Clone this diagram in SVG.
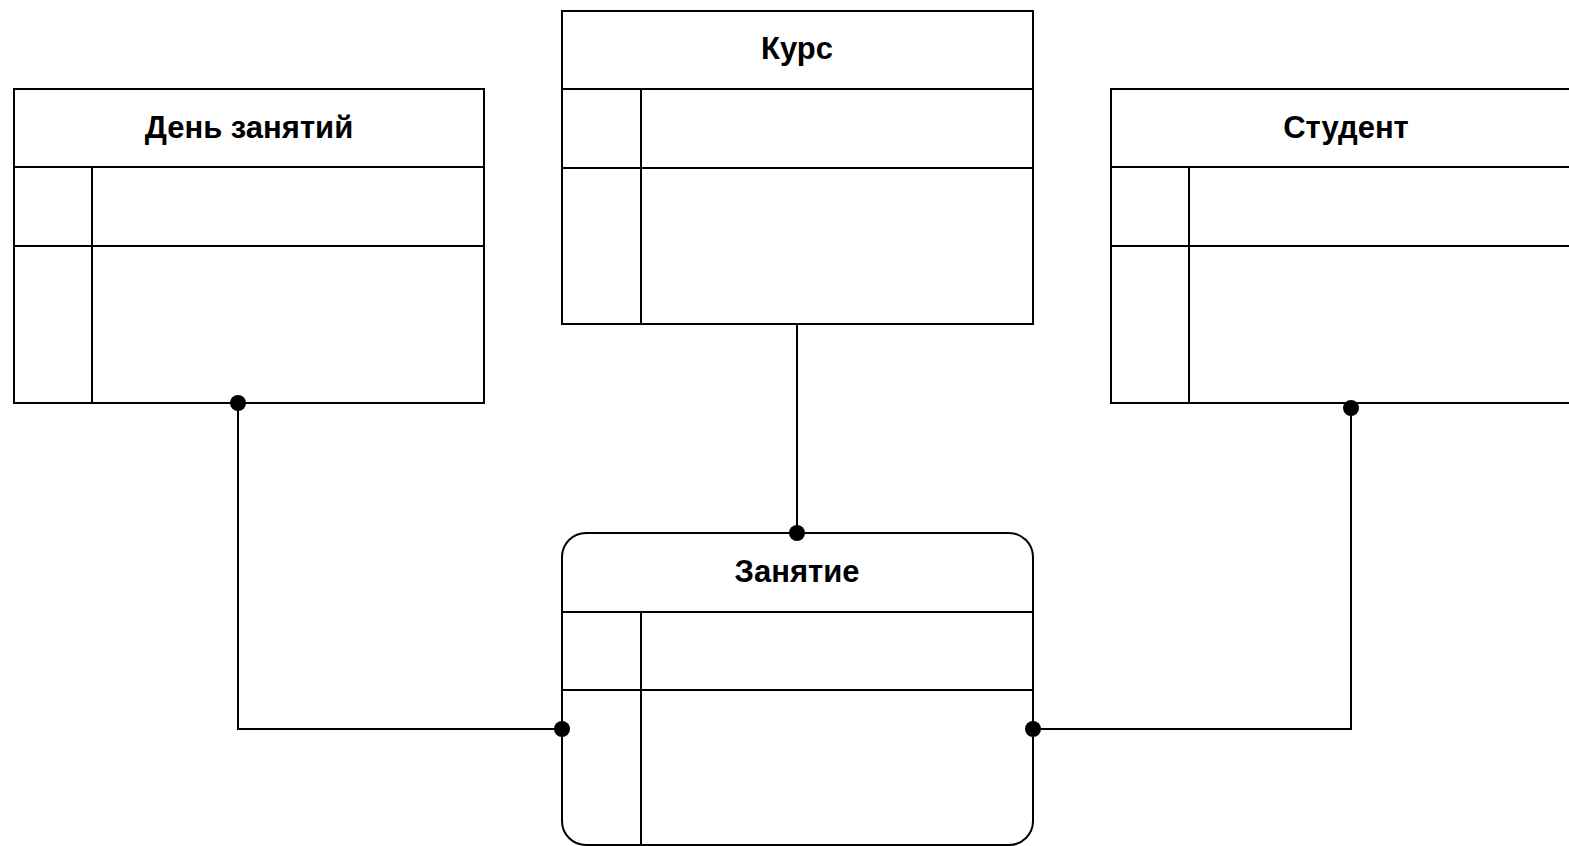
<svg xmlns="http://www.w3.org/2000/svg" width="1569" height="846" viewBox="0 0 1569 846">
<style>
.box{fill:#fff;stroke:#000;stroke-width:2}
.ln{fill:none;stroke:#000;stroke-width:2}
.t{font-family:"Liberation Sans",Arial,sans-serif;font-weight:bold;font-size:31px;fill:#000;text-anchor:middle}
.dot{fill:#000}
</style>
<rect width="1569" height="846" fill="#fff"/>
<g id="day">
<rect class="box" x="14" y="89" width="470" height="314"/>
<line class="ln" x1="14" y1="167" x2="484" y2="167"/>
<line class="ln" x1="14" y1="246" x2="484" y2="246"/>
<line class="ln" x1="92" y1="167" x2="92" y2="403"/>
<text class="t" x="249" y="138">День занятий</text>
</g>
<g id="course">
<rect class="box" x="562" y="11" width="471" height="313"/>
<line class="ln" x1="562" y1="89" x2="1033" y2="89"/>
<line class="ln" x1="562" y1="168" x2="1033" y2="168"/>
<line class="ln" x1="641" y1="89" x2="641" y2="324"/>
<text class="t" x="797" y="59">Курс</text>
</g>
<g id="student">
<rect class="box" x="1111" y="89" width="470" height="314"/>
<line class="ln" x1="1111" y1="167" x2="1581" y2="167"/>
<line class="ln" x1="1111" y1="246" x2="1581" y2="246"/>
<line class="ln" x1="1189" y1="167" x2="1189" y2="403"/>
<text class="t" x="1346" y="138">Студент</text>
</g>
<g id="lesson">
<rect class="box" x="562" y="533" width="471" height="312" rx="24" ry="24"/>
<line class="ln" x1="562" y1="612" x2="1033" y2="612"/>
<line class="ln" x1="562" y1="690" x2="1033" y2="690"/>
<line class="ln" x1="641" y1="612" x2="641" y2="846"/>
<text class="t" x="797" y="582">Занятие</text>
</g>
<g id="connectors">
<polyline class="ln" points="238,403 238,729 562,729"/>
<circle class="dot" cx="238" cy="403" r="8"/>
<circle class="dot" cx="562" cy="729" r="8"/>
<line class="ln" x1="797" y1="324" x2="797" y2="533"/>
<circle class="dot" cx="797" cy="533" r="8"/>
<polyline class="ln" points="1351,408 1351,729 1033,729"/>
<circle class="dot" cx="1351" cy="408" r="8"/>
<circle class="dot" cx="1033" cy="729" r="8"/>
</g>
</svg>
